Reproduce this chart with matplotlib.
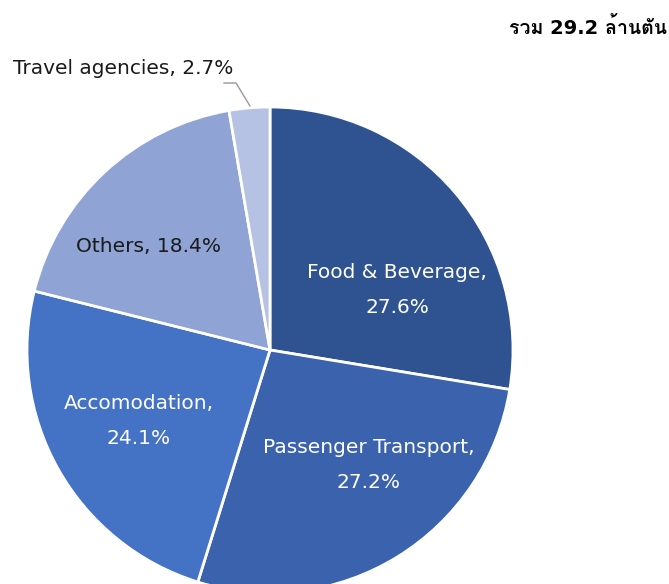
import matplotlib.pyplot as plt
from matplotlib import font_manager, ft2font

labels = ['Food & Beverage', 'Passenger Transport', 'Accomodation', 'Others', 'Travel agencies']
shares = [27.6, 27.2, 24.1, 18.4, 2.7]
colors = ['#2F5391', '#3B63AD', '#4472C4', '#8FA3D4', '#B6C2E4']
total_text = 'รวม 29.2 ล้านตัน'

# find an installed family that has Thai letters
thai = []
for f in font_manager.fontManager.ttflist:
    try:
        cm = ft2font.FT2Font(f.fname).get_charmap()
    except Exception:
        continue
    if ord('ต') in cm and f.name not in thai:
        thai.append(f.name)

plt.rcParams['font.family'] = ['DejaVu Sans'] + thai

fig = plt.figure(figsize=(6.69, 5.84), dpi=100)
ax = fig.add_axes([27/669, -9/584, 486/669, 486/584])

wedges, _ = ax.pie(shares, colors=colors, startangle=90, counterclock=False,
                   radius=1, wedgeprops=dict(edgecolor='white', linewidth=2))
ax.set_xlim(-1, 1)
ax.set_ylim(-1, 1)
ax.set_aspect('equal')
ax.axis('off')

def px(x, y):
    # pixel position in the picture -> data units of the pie
    return (x - 270) / 243, -(y - 350) / 243

# label positions (pixels) for each slice
pos = [(397, 290), (369, 465), (139, 421), (148, 246)]
txt_col = ['white', 'white', 'white', '#1a1a1a']
for i in range(4):
    x, y = px(*pos[i])
    if i < 3:
        s = f'{labels[i]},\n{shares[i]}%'
    else:
        s = f'{labels[i]}, {shares[i]}%'
    ax.text(x, y, s, ha='center', va='center', fontsize=14.5, color=txt_col[i],
            linespacing=2.05, clip_on=False)

# small slice with leader line
x, y = px(123, 68)
ax.text(x, y, f'{labels[4]}, {shares[4]}%', ha='center', va='center',
        fontsize=14.5, color='#1a1a1a', clip_on=False)
lx = [px(224, 83)[0], px(236, 83)[0], px(250, 106)[0]]
ly = [px(224, 83)[1], px(236, 83)[1], px(250, 106)[1]]
ax.plot(lx, ly, color='#999999', lw=1, clip_on=False)

fig.text(667/669, 1 - 27/584, total_text, ha='right', va='center',
         fontsize=14, fontweight='bold', color='black')

fig.savefig('out.png', dpi=100)
